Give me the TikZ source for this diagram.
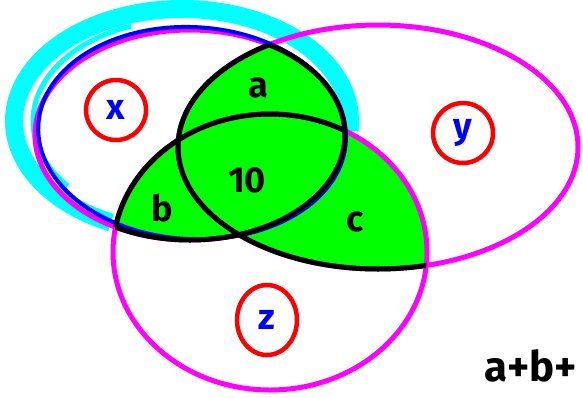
\documentclass[tikz,border=0pt]{standalone}
\usepackage{fontspec}
\setmainfont{Fira Sans}
\usetikzlibrary{shapes.geometric}

\definecolor{setpink}{RGB}{255,0,255}
\definecolor{scribble}{RGB}{0,255,255}
\definecolor{overlap}{RGB}{0,255,0}
\definecolor{pen}{RGB}{0,0,255}
\definecolor{ring}{RGB}{255,0,0}

\tikzset{
  setX/.style={insert path={(X) ellipse [x radius=155, y radius=105]}},
  setY/.style={insert path={(Y) ellipse [x radius=200, y radius=122]}},
  setZ/.style={insert path={(Z) ellipse [x radius=157, y radius=138]}},
}

\begin{document}
\begin{tikzpicture}[x=1pt, y=-1pt,
  every node/.style={font=\bfseries\fontsize{36}{36}\selectfont},
  rim/.style={setpink, line width=5pt},
  edge/.style={black, line width=5pt},
  tag/.style={ellipse, draw=ring, line width=4.5pt, text=pen, inner sep=0pt,
    minimum width=60pt, minimum height=60pt}]
	\useasboundingbox (0,0) rectangle (583,397);
	\coordinate (X) at (190,135);
	\coordinate (Y) at (378,147);
	\coordinate (Z) at (270,252);
	\coordinate (S) at (182,121);
	% scribble round x
	\draw[scribble, line width=18pt] ([shift={(115:168 and 112)}]S) arc[start angle=115, end angle=365, x radius=168, y radius=112];
	\draw[scribble, line width=5pt] ([shift={(140:149 and 101)}]S) arc[start angle=140, end angle=250, x radius=149, y radius=101];
	% at least two sets
	\begin{scope}
		\clip[setX];
		\fill[overlap, setY];
		\fill[overlap, setZ];
	\end{scope}
	\begin{scope}
		\clip[setY];
		\fill[overlap, setZ];
	\end{scope}
	\draw[rim, setX];
	\draw[rim, setY];
	\draw[rim, setZ];
	\draw[pen, line width=4pt, rotate around={-3:(X)}] (192,133) ellipse [x radius=154, y radius=106];
	% borders of the green part
	\begin{scope}
		\clip[setY, setZ];
		\draw[edge, setX];
	\end{scope}
	\begin{scope}
		\clip[setX, setZ];
		\draw[edge, setY];
	\end{scope}
	\begin{scope}
		\clip[setX];
		\draw[edge, setZ];
	\end{scope}
	\node[tag] (x) at (116,110) {x};
	\node[tag] (y) at (463,133) {y};
	\node[tag, minimum height=70pt] (z) at (267,320) {z};
	\node (a) at (258,88) {a};
	\node (ten) at (247,180) {10};
	\node (b) at (162,208) {b};
	\node (c) at (355,222) {c};
	\node[anchor=base west, font=\bfseries\fontsize{42}{42}\selectfont] (sum) at (481,381) {a+b+};
\end{tikzpicture}
\end{document}
